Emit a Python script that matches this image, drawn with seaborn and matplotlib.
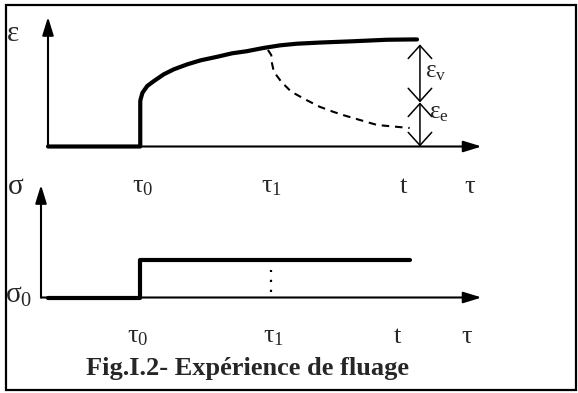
import matplotlib
matplotlib.use("Agg")
import matplotlib.pyplot as plt
from matplotlib.patches import Rectangle
import pandas as pd
import seaborn as sns

# --- Creep test: strain response and applied stress -------------------------
tau0 = 2.5      # loading instant
tau1 = 6.05     # unloading instant of the partial test
t_end = 10.0    # observation time t
tau_max = 11.75 # end of time axis

# strain history under constant stress (solid curve)
creep_time = [0.0, 2.5, 2.5, 2.51, 2.56, 2.69, 2.87, 3.14, 3.41, 3.78, 4.14, 4.59,
              4.99, 5.38, 5.83, 6.29, 6.74, 7.37, 8.27, 9.18, 9.90, 10.0]
creep_strain = [0.0, 0.0, 0.42, 0.44, 0.50, 0.563, 0.609, 0.672, 0.718, 0.765, 0.802, 0.835,
                0.867, 0.886, 0.916, 0.941, 0.956, 0.967, 0.979, 0.993, 0.996, 0.996]

# recovery after unloading at tau1 (dashed curve)
recov_time = [5.96, 6.05, 6.07, 6.12, 6.32, 6.59, 7.0, 7.36, 7.72, 7.99, 8.92, 9.8]
recov_strain = [0.898, 0.851, 0.774, 0.696, 0.603, 0.510, 0.433, 0.370, 0.324, 0.293, 0.20, 0.172]

# viscous / elastic split at time t
eps_top = 0.95
eps_split = 0.41

# applied stress (step at tau0)
stress_time = [0.0, 2.5, 2.5, 9.8]
stress_value = [0.0, 0.0, 1.0, 1.0]

time_ticks = ["$\\mathrm{τ}_\\mathrm{0}$", "$\\mathrm{τ}_\\mathrm{1}$", "t", "τ"]
caption = "Fig.I.2- Expérience de fluage"

# --- Figure -----------------------------------------------------------------
W, H = 578, 393
DPI = 100
sns.set_theme(style="white")
plt.rcParams["font.family"] = ["Liberation Serif", "DejaVu Serif"]
plt.rcParams["mathtext.fontset"] = "custom"
plt.rcParams["mathtext.rm"] = "Liberation Serif"
plt.rcParams["mathtext.it"] = "Liberation Serif:italic"

fig = plt.figure(figsize=(W / DPI, H / DPI), dpi=DPI, facecolor="white")

PX_PER_T = 36.9
X0_PX = 48.0
xlim = (-X0_PX / PX_PER_T, (W - X0_PX) / PX_PER_T)


def panel(px_top, px_bot, base_px, px_per_unit):
    ax = fig.add_axes([0, 1 - px_bot / H, 1, (px_bot - px_top) / H])
    ax.set_xlim(*xlim)
    ax.set_ylim((base_px - px_bot) / px_per_unit, (base_px - px_top) / px_per_unit)
    ax.axis("off")
    return ax


ax_e = panel(0, 180, 146.5, 107.5)
ax_s = panel(180, 393, 297.5, 37.5)

BLACK = "black"


def axis_arrow(ax, start, end):
    ax.annotate("", xy=end, xytext=start,
                arrowprops=dict(arrowstyle="-|>,head_length=1.1,head_width=0.34",
                                mutation_scale=10, lw=1.5, color=BLACK,
                                shrinkA=0, shrinkB=0))


def dim_arrow(ax, x, y0, y1):
    ax.annotate("", xy=(x, y1), xytext=(x, y0),
                arrowprops=dict(arrowstyle="<->,head_length=0.52,head_width=0.47",
                                mutation_scale=18, lw=1.1, color=BLACK,
                                shrinkA=0, shrinkB=0))


# strain panel
creep_df = pd.DataFrame({"time": creep_time, "strain": creep_strain})
recov_df = pd.DataFrame({"time": recov_time, "strain": recov_strain})
sns.lineplot(data=creep_df, x="time", y="strain", ax=ax_e, estimator=None,
             sort=False, color=BLACK, lw=3.0, solid_joinstyle="round")
sns.lineplot(data=recov_df, x="time", y="strain", ax=ax_e, estimator=None,
             sort=False, color=BLACK, lw=1.5, linestyle=(0, (3.6, 2.8)))
axis_arrow(ax_e, (0, 0), (0, 1.205))
axis_arrow(ax_e, (0, 0), (tau_max, 0))
dim_arrow(ax_e, 10.08, eps_split, eps_top)
dim_arrow(ax_e, 10.08, 0.0, eps_split)
ax_e.text(10.22, 0.69, "$\\mathrm{ε}_\\mathrm{v}$", fontsize=18, ha="left", va="center")
ax_e.text(10.32, 0.31, "$\\mathrm{ε}_\\mathrm{e}$", fontsize=18, ha="left", va="center")
ax_e.text(-1.12, 1.05, "ε", fontsize=21, ha="left", va="center")

top_label_y = -0.38
for xpos, lab in zip([2.57, 6.05, 9.62, 11.44], time_ticks):
    ax_e.text(xpos, top_label_y, lab, fontsize=19, ha="center", va="center")
ax_e.text(-0.88, top_label_y, "σ", fontsize=21, ha="center", va="center",
          clip_on=False)

# stress panel
stress_df = pd.DataFrame({"time": stress_time, "stress": stress_value})
sns.lineplot(data=stress_df, x="time", y="stress", ax=ax_s, estimator=None,
             sort=False, color=BLACK, lw=3.0)
sig_x0 = (41 - X0_PX) / PX_PER_T
axis_arrow(ax_s, (sig_x0, 0), (sig_x0, 3.0))
axis_arrow(ax_s, (sig_x0, 0), (tau_max, 0))
ax_s.plot([tau1, tau1], [0.14, 0.73], color=BLACK, lw=1.6, linestyle=(0, (1, 3.5)))
ax_s.text(-1.17, 0.05, "$\\mathrm{σ}_\\mathrm{0}$", fontsize=21, ha="left", va="center")

bot_label_y = -1.05
for xpos, lab in zip([2.42, 6.1, 9.46, 11.36], time_ticks):
    ax_s.text(xpos, bot_label_y, lab, fontsize=19, ha="center", va="center")

fig.text(248 / W, 1 - 369 / H, caption, fontsize=19, fontweight="bold",
         ha="center", va="center")

# frame
fig.patches.append(Rectangle((6 / W, 1 - 390 / H), 570 / W, 385 / H,
                             transform=fig.transFigure, fill=False,
                             edgecolor=BLACK, lw=1.6))

fig.savefig("out.png", dpi=DPI, facecolor="white")
